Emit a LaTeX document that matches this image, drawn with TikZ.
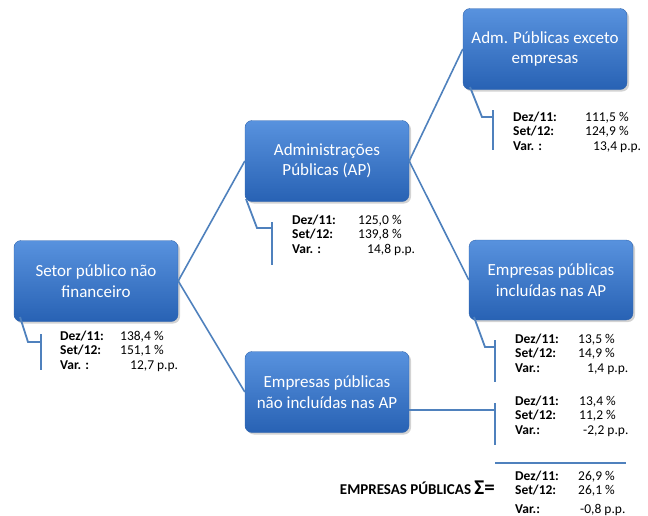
\documentclass[tikz,border=0pt]{standalone}
\usepackage{fontspec}
\setmainfont{Carlito}
\usetikzlibrary{positioning,calc,shadows}
\definecolor{boxtop}{RGB}{88,146,222}
\definecolor{boxbot}{RGB}{40,98,180}
\definecolor{boxline}{RGB}{48,100,172}
\definecolor{linkblue}{RGB}{79,129,189}
\tikzstyle{sector}=[
  draw=boxline, rounded corners=7pt, top color=boxtop, bottom color=boxbot,
  minimum width=164pt, minimum height=81pt, align=center,
  text=white, font=\fontsize{17}{20.5}\selectfont,
  drop shadow={opacity=0.35, shadow xshift=2pt, shadow yshift=-2pt}
]
\tikzstyle{link}=[
  linkblue, line width=1.6pt
]
\tikzstyle{callout}=[
  linkblue, line width=1.8pt
]
\tikzstyle{figures}=[
  anchor=base west, inner sep=0pt, font=\fontsize{13.5}{14.5}\selectfont
]
% label column width, Dez/11, Set/12, Var label, shift, Var
\newcommand{\valtab}[6]{%
  \begin{tabular}[t]{@{}p{#1}@{}l@{}}
    \textbf{Dez/11:} & #2 \\
    \textbf{Set/12:} & #3 \\
    \textbf{#4} & \hspace*{#5}#6
  \end{tabular}}

\begin{document}
\begin{tikzpicture}[x=1pt,y=-1pt]
    \useasboundingbox (0,0) rectangle (648,515);
    % boxes
    \node (spnf) at (96,281) [sector] {Setor público não\\financeiro};
    \node (ap) at (327,161) [sector] {Administrações\\Públicas (AP)};
    \node (adm) at (545,49) [sector] {Adm. Públicas exceto\\empresas};
    \node (incl) at (551,280) [sector, minimum height=80pt] {Empresas públicas\\incluídas nas AP};
    \node (nao) at (327,392) [sector] {Empresas públicas\\não incluídas nas AP};
    % tree
    \draw [link] (spnf.east) -- (ap.west);
    \draw [link] (spnf.east) -- (nao.west);
    \draw [link] (ap.east) -- (adm.west);
    \draw [link] (ap.east) -- (incl.west);
    % callouts
    \coordinate (spnf-a) at (20,317);
    \coordinate (spnf-b) at (28,342);
    \coordinate (spnf-c) at (41,342);
    \coordinate (spnf-t) at (41,334);
    \coordinate (spnf-u) at (41,370);
    \draw [callout] (spnf-a) -- (spnf-b) -- (spnf-c);
    \draw [callout] (spnf-t) -- (spnf-u);
    \coordinate (ap-a) at (246,199);
    \coordinate (ap-b) at (257,228);
    \coordinate (ap-c) at (272,228);
    \coordinate (ap-t) at (272,222);
    \coordinate (ap-u) at (272,265);
    \draw [callout] (ap-a) -- (ap-b) -- (ap-c);
    \draw [callout] (ap-t) -- (ap-u);
    \coordinate (adm-a) at (470,87);
    \coordinate (adm-b) at (482,117);
    \coordinate (adm-c) at (493,117);
    \coordinate (adm-t) at (493,110);
    \coordinate (adm-u) at (493,150);
    \draw [callout] (adm-a) -- (adm-b) -- (adm-c);
    \draw [callout] (adm-t) -- (adm-u);
    \coordinate (incl-a) at (474,317);
    \coordinate (incl-b) at (485,347);
    \coordinate (incl-c) at (495,347);
    \coordinate (incl-t) at (495,340);
    \coordinate (incl-u) at (495,382);
    \draw [callout] (incl-a) -- (incl-b) -- (incl-c);
    \draw [callout] (incl-t) -- (incl-u);
    \coordinate (nao-a) at ($(nao.east)+(0,18)$);
    \coordinate (nao-c) at (495,410);
    \coordinate (nao-t) at (495,403);
    \coordinate (nao-u) at (495,445);
    \draw [callout] (nao-a) -- (nao-c);
    \draw [callout] (nao-t) -- (nao-u);
    \coordinate (sum-a) at (495,463);
    \coordinate (sum-b) at (626,463);
    \draw [callout] (sum-a) -- (sum-b);
    % figures
    \node (spnf-v) at (60,340) [figures] {\valtab{60pt}{138,4 \%}{151,1 \%}{Var. :}{10pt}{12,7 p.p.}};
    \node (ap-v) at (292,224) [figures] {\valtab{66pt}{125,0 \%}{139,8 \%}{Var. :}{9pt}{14,8 p.p.}};
    \node (adm-v) at (513,121) [figures] {\valtab{72pt}{111,5 \%}{124,9 \%}{Var. :}{8pt}{13,4 p.p.}};
    \node (incl-v) at (515,343) [figures] {\valtab{63pt}{13,5 \%}{14,9 \%}{Var.:}{9pt}{1,4 p.p.}};
    \node (nao-v) at (515,405) [figures] {\valtab{64pt}{13,4 \%}{11,2 \%}{Var.:}{4pt}{-2,2 p.p.}};
    \node (sum-v) at (515,480) [figures] {%
      \begin{tabular}[t]{@{}p{63pt}@{}l@{}}
        \textbf{Dez/11:} & 26,9 \% \\
        \textbf{Set/12:} & 26,1 \% \\[4pt]
        \textbf{Var.:} & \hspace*{2pt}-0,8 p.p.
      \end{tabular}};
    \node (sum-l) at (495,494) [anchor=base east, inner sep=0pt, font=\fontsize{15}{18}\selectfont\bfseries] {EMPRESAS PÚBLICAS {\fontsize{21}{22}\selectfont Σ=}};
\end{tikzpicture}
\end{document}
